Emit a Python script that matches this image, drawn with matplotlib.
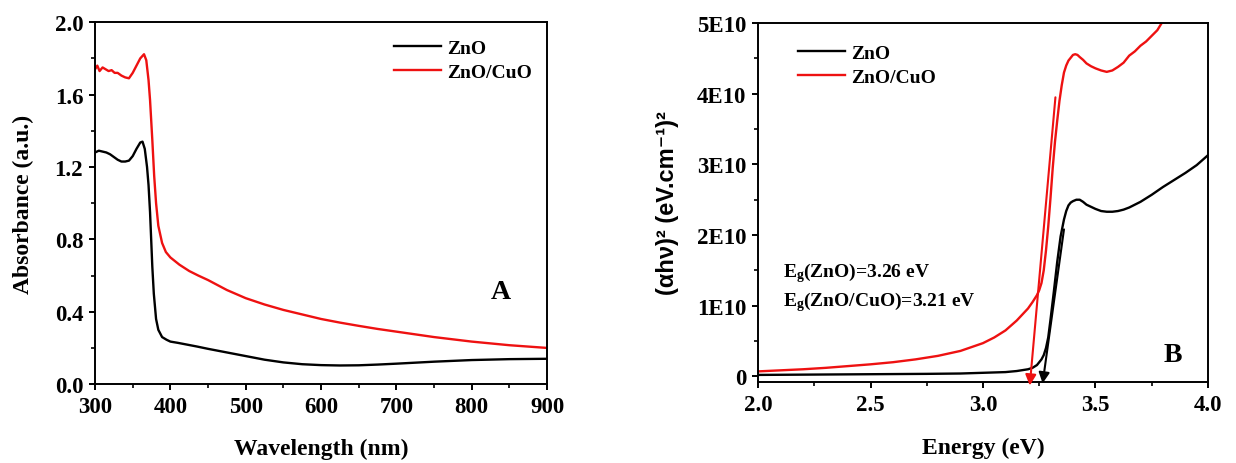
import numpy as np
import matplotlib
matplotlib.use("Agg")
import matplotlib.pyplot as plt
from matplotlib.ticker import MultipleLocator, FuncFormatter

plt.rcParams['font.family'] = ['Liberation Serif', 'DejaVu Serif']
plt.rcParams['font.weight'] = 'bold'
plt.rcParams['mathtext.fontset'] = 'custom'
plt.rcParams['mathtext.rm'] = 'Liberation Serif:bold'
plt.rcParams['mathtext.it'] = 'Liberation Serif:bold'
plt.rcParams['mathtext.bf'] = 'Liberation Serif:bold'

# ---- panel A : absorbance vs wavelength ----
wl_zno = [300, 305, 310, 315, 320, 325, 330, 335, 340, 345, 350, 355, 360, 363, 366, 369,
          371, 373, 376, 378, 381, 384, 389, 395, 400, 410, 420, 435, 450, 475, 500, 525,
          550, 575, 600, 625, 650, 675, 700, 750, 800, 850, 900]
abs_zno = [1.28, 1.29, 1.285, 1.28, 1.27, 1.255, 1.24, 1.23, 1.23, 1.235, 1.26, 1.30, 1.335,
           1.34, 1.30, 1.20, 1.10, 0.95, 0.65, 0.50, 0.36, 0.30, 0.26, 0.245, 0.235, 0.228,
           0.22, 0.208, 0.195, 0.175, 0.155, 0.135, 0.12, 0.11, 0.105, 0.103, 0.104, 0.108,
           0.113, 0.124, 0.133, 0.138, 0.14]

wl_cuo = [300, 303, 306, 310, 314, 318, 322, 326, 330, 335, 340, 345, 350, 355, 360, 365,
          368, 371, 373, 376, 378.5, 381, 384, 389, 394, 400, 412, 425, 437, 450, 475, 500,
          525, 550, 575, 600, 625, 650, 675, 700, 750, 800, 850, 900]
abs_cuo = [1.74, 1.76, 1.73, 1.75, 1.74, 1.73, 1.735, 1.72, 1.72, 1.705, 1.695, 1.69, 1.72,
           1.76, 1.80, 1.823, 1.79, 1.68, 1.57, 1.35, 1.15, 1.00, 0.875, 0.78, 0.73, 0.70,
           0.66, 0.625, 0.60, 0.575, 0.52, 0.475, 0.44, 0.41, 0.385, 0.36, 0.34, 0.322,
           0.305, 0.29, 0.26, 0.235, 0.215, 0.20]

# ---- panel B : Tauc plot (values in units of 1E10) ----
e_zno = [2.0, 2.25, 2.5, 2.75, 2.9, 3.0, 3.1, 3.15, 3.18, 3.2, 3.22, 3.24, 3.25, 3.26, 3.27,
         3.28, 3.29, 3.30, 3.315, 3.33, 3.345, 3.36, 3.37, 3.38, 3.39, 3.40, 3.415, 3.43,
         3.445, 3.46, 3.48, 3.5, 3.525, 3.55, 3.575, 3.6, 3.625, 3.65, 3.7, 3.75, 3.8, 3.85,
         3.9, 3.95, 4.0]
t_zno = [0.02, 0.025, 0.03, 0.035, 0.04, 0.05, 0.06, 0.075, 0.09, 0.1, 0.12, 0.16, 0.2,
         0.24, 0.3, 0.4, 0.55, 0.8, 1.2, 1.62, 1.98, 2.22, 2.34, 2.42, 2.46, 2.48, 2.5, 2.5,
         2.47, 2.43, 2.4, 2.37, 2.34, 2.33, 2.33, 2.34, 2.36, 2.39, 2.47, 2.57, 2.68, 2.78,
         2.88, 2.99, 3.13]

e_cuo = [2.0, 2.1, 2.2, 2.3, 2.4, 2.5, 2.6, 2.7, 2.8, 2.9, 3.0, 3.05, 3.1, 3.15, 3.2, 3.22,
         3.24, 3.25, 3.26, 3.27, 3.28, 3.29, 3.30, 3.31, 3.32, 3.33, 3.34, 3.35, 3.36, 3.37,
         3.38, 3.39, 3.40, 3.41, 3.42, 3.43, 3.445, 3.46, 3.48, 3.5, 3.525, 3.55, 3.575,
         3.6, 3.625, 3.65, 3.675, 3.7, 3.725, 3.75, 3.775, 3.8]
t_cuo = [0.07, 0.085, 0.1, 0.12, 0.145, 0.17, 0.2, 0.24, 0.29, 0.36, 0.47, 0.55, 0.65, 0.79,
         0.96, 1.05, 1.15, 1.22, 1.32, 1.5, 1.78, 2.12, 2.52, 2.95, 3.32, 3.62, 3.9, 4.12,
         4.3, 4.4, 4.47, 4.51, 4.55, 4.56, 4.55, 4.52, 4.48, 4.43, 4.39, 4.36, 4.33, 4.31,
         4.33, 4.38, 4.44, 4.54, 4.6, 4.68, 4.74, 4.82, 4.9, 5.03]

# tangent lines (start, arrow tip) in (eV, 1E10)
tan_zno = [(3.36, 2.08), (3.265, -0.1)]
tan_cuo = [(3.322, 3.95), (3.208, -0.13)]

fig = plt.figure(figsize=(12.36, 4.64), dpi=100)
ax1 = fig.add_axes([0.0769, 0.170, 0.3657, 0.780])
ax2 = fig.add_axes([0.6133, 0.1746, 0.3640, 0.7734])

for ax in (ax1, ax2):
    for s in ax.spines.values():
        s.set_linewidth(1.4)
    ax.tick_params(which='major', direction='out', length=4.5, width=1.4, labelsize=16.5, pad=4)
    ax.tick_params(which='minor', direction='out', length=3, width=1.2)

red = '#ee1111'

ax1.plot(wl_zno, abs_zno, color='black', lw=1.7, label='ZnO')
ax1.plot(wl_cuo, abs_cuo, color=red, lw=1.7, label='ZnO/CuO')
ax1.set_xlim(300, 900)
ax1.set_ylim(0, 2.0)
ax1.xaxis.set_major_locator(MultipleLocator(100))
ax1.xaxis.set_minor_locator(MultipleLocator(50))
ax1.yaxis.set_major_locator(MultipleLocator(0.4))
ax1.yaxis.set_minor_locator(MultipleLocator(0.2))
ax1.yaxis.set_major_formatter(FuncFormatter(lambda v, p: f"{v:.1f}"))
ax1.set_xlabel('Wavelength (nm)', fontsize=17, fontweight='bold', labelpad=15)
ax1.set_ylabel('Absorbance (a.u.)', fontsize=17, fontweight='bold', labelpad=15)
ax1.text(839, 0.51, 'A', fontsize=20, ha='center', va='center')
ax1.legend(loc='upper left', bbox_to_anchor=(0.645, 0.975), frameon=False, fontsize=14,
           handlelength=2.4, handletextpad=0.3, labelspacing=0.35, borderaxespad=0)

ax2.plot(e_zno, np.array(t_zno) * 1e10, color='black', lw=1.7, label='ZnO')
ax2.plot(e_cuo, np.array(t_cuo) * 1e10, color=red, lw=1.7, label='ZnO/CuO')
for (p0, p1), c in ((tan_zno, 'black'), (tan_cuo, red)):
    ax2.annotate('', xy=(p1[0], p1[1] * 1e10), xytext=(p0[0], p0[1] * 1e10),
                 annotation_clip=False,
                 arrowprops=dict(arrowstyle='-|>', color=c, lw=1.5,
                                 mutation_scale=16, shrinkA=0, shrinkB=0))
ax2.set_xlim(2.0, 4.0)
ax2.set_ylim(-0.08e10, 5e10)
ax2.xaxis.set_major_locator(MultipleLocator(0.5))
ax2.xaxis.set_minor_locator(MultipleLocator(0.25))
ax2.yaxis.set_major_locator(MultipleLocator(1e10))
ax2.yaxis.set_minor_locator(MultipleLocator(0.5e10))
ax2.xaxis.set_major_formatter(FuncFormatter(lambda v, p: f"{v:.1f}"))
ax2.yaxis.set_major_formatter(FuncFormatter(lambda v, p: "0" if abs(v) < 1 else f"{v / 1e10:.0f}E10"))
ax2.set_xlabel('Energy (eV)', fontsize=17, fontweight='bold', labelpad=16)
ax2.set_ylabel('(αhν)² (eV.cm⁻¹)²', fontsize=17, fontweight='bold', labelpad=13,
               family=['Liberation Sans', 'DejaVu Sans'])
ax2.text(3.844, 0.31e10, 'B', fontsize=20, ha='center', va='center')
ax2.text(2.11, 1.47e10, r'E$_{\mathrm{g}}$(ZnO)=3.26 eV', fontsize=14, va='center')
ax2.text(2.11, 1.06e10, r'E$_{\mathrm{g}}$(ZnO/CuO)=3.21 eV', fontsize=14, va='center')
ax2.legend(loc='upper left', bbox_to_anchor=(0.072, 0.962), frameon=False, fontsize=14,
           handlelength=2.4, handletextpad=0.3, labelspacing=0.3, borderaxespad=0)

fig.savefig('out.png', dpi=100)
